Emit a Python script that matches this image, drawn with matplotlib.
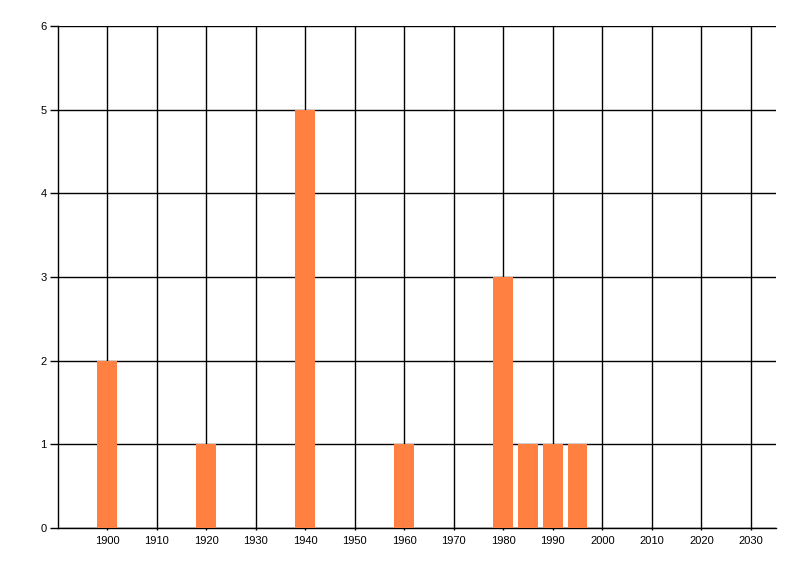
import matplotlib
matplotlib.use('Agg')
import matplotlib.pyplot as plt

# bar data
years = [1900, 1920, 1940, 1960, 1980, 1985, 1990, 1995]
counts = [2, 1, 5, 1, 3, 1, 1, 1]

xticks = list(range(1900, 2031, 10))
yticks = list(range(0, 7))

plt.rcParams['font.family'] = ['Liberation Sans', 'DejaVu Sans']

fig = plt.figure(figsize=(8, 5.76), dpi=100)
ax = fig.add_axes([0.0719, 0.0833, 0.8977, 0.8716])

ax.bar(years, counts, width=4, color='#FF8040', zorder=3)

ax.set_xlim(1890, 2035)
ax.set_ylim(0, 6)
ax.set_xticks(xticks)
ax.set_yticks(yticks)
ax.grid(True, color='black', linewidth=1, zorder=0)
ax.set_axisbelow(True)

for side in ['top', 'right']:
    ax.spines[side].set_visible(False)
for side in ['left', 'bottom']:
    ax.spines[side].set_color('black')
    ax.spines[side].set_linewidth(1)

ax.tick_params(axis='x', length=1.5, width=1, pad=4.5, labelsize=8)
ax.tick_params(axis='y', length=6, width=1, pad=2, labelsize=8)

plt.savefig('out.png', dpi=100)
plt.close()
